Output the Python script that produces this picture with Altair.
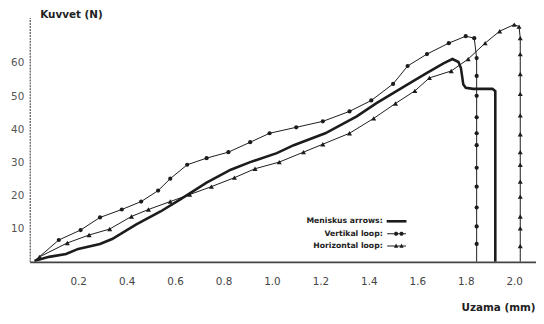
import math
import altair as alt
import pandas as pd

# ---- data ----
series_names = ["Meniskus arrows:", "Vertikal loop:", "Horizontal loop:"]

men_x = [0.02, 0.08, 0.15, 0.20, 0.29, 0.34, 0.44, 0.54, 0.62, 0.73, 0.83, 0.91, 1.02, 1.09,
         1.22, 1.35, 1.43, 1.55, 1.64, 1.71, 1.745, 1.77, 1.78, 1.79, 1.80, 1.83, 1.91, 1.922, 1.922]
men_y = [0.3, 1.5, 2.4, 3.9, 5.4, 6.9, 11.3, 15.2, 18.8, 23.9, 27.8, 30.1, 32.8, 35.2,
         38.8, 43.9, 47.8, 53.1, 57.0, 60.0, 61.2, 60.3, 58.5, 53.5, 52.5, 52.2, 52.2, 51.5, 0.0]

ver_x = [0.02, 0.12, 0.21, 0.29, 0.38, 0.46, 0.53, 0.58, 0.65, 0.73, 0.82, 0.91, 0.99, 1.10,
         1.21, 1.32, 1.41, 1.50, 1.56, 1.64, 1.73, 1.80, 1.835,
         1.845, 1.845, 1.845, 1.845, 1.845, 1.845, 1.845, 1.845, 1.845, 1.845, 1.845, 1.845]
ver_y = [0.3, 6.6, 9.6, 13.4, 15.8, 18.2, 21.5, 25.1, 29.3, 31.3, 33.1, 36.1, 38.8, 40.6,
         42.4, 45.4, 48.7, 53.7, 59.1, 62.7, 66.0, 68.1, 67.5,
         61.5, 56.1, 50.1, 43.6, 38.8, 35.2, 28.4, 22.7, 16.4, 10.7, 5.4, 0.0]

hor_x = [0.02, 0.04, 0.155, 0.245, 0.33, 0.42, 0.49, 0.58, 0.66, 0.75, 0.845, 0.93, 1.03, 1.13,
         1.21, 1.32, 1.42, 1.51, 1.59, 1.65, 1.74, 1.81, 1.88, 1.94, 2.00, 2.02,
         2.025, 2.025, 2.025, 2.025, 2.025, 2.025, 2.025, 2.025, 2.025, 2.025, 2.025, 2.025, 2.025, 2.025]
hor_y = [0.3, 1.5, 5.7, 8.1, 9.9, 13.7, 15.8, 18.2, 20.3, 22.7, 25.4, 28.1, 30.1, 33.1,
         35.5, 38.8, 43.3, 47.8, 51.6, 55.5, 57.6, 61.2, 66.0, 69.6, 71.6, 71.0,
         67.5, 62.7, 56.7, 50.7, 44.2, 38.5, 33.1, 29.3, 24.2, 19.7, 13.7, 10.1, 4.8, 0.0]

x_ticks = [0.2, 0.4, 0.6, 0.8, 1.0, 1.2, 1.4, 1.6, 1.8, 2.0]
y_ticks = [10, 20, 30, 40, 50, 60]

# ---- table ----
rows = []
for name, xs, ys in zip(series_names, [men_x, ver_x, hor_x], [men_y, ver_y, hor_y]):
    for i, (xv, yv) in enumerate(zip(xs, ys)):
        rows.append({"series": name, "x": xv, "y": yv, "idx": i})
df = pd.DataFrame(rows)

INK = "#1c1c1c"
FONT = "DejaVu Sans"

xscale = alt.Scale(domain=[0, 2.09], nice=False, zero=False)
yscale = alt.Scale(domain=[0, 73.7], nice=False, zero=False)

xenc = alt.X("x:Q", scale=xscale, axis=alt.Axis(
    values=x_ticks, format=".1f", ticks=False, grid=False, labelPadding=15,
    labelFontSize=10.5, labelColor="#444", labelFont=FONT,
    domainColor="#444", domainWidth=1.6,
    title="Uzama (mm)", titleFont=FONT, titleFontSize=10.5, titleFontWeight="bold",
    titleColor="#222", titleAnchor="end", titleAlign="right", titleX=511, titleY=46,
    titleBaseline="middle"))
yenc = alt.Y("y:Q", scale=yscale, axis=alt.Axis(
    values=y_ticks, ticks=False, grid=False, labelPadding=6,
    labelFontSize=10.5, labelColor="#555", labelFont=FONT,
    domainColor="#555", domainWidth=1.2, domainDash=[2, 1],
    title="Kuvvet (N)", titleFont=FONT, titleFontSize=10.5, titleFontWeight="bold",
    titleColor="#222", titleAngle=0, titleAlign="left", titleX=10, titleY=-3,
    titleBaseline="middle"))

base = alt.Chart(df)

lines = base.mark_line(color=INK, clip=True).encode(
    x=xenc, y=yenc,
    detail="series:N",
    order=alt.Order("idx:Q"),
    strokeWidth=alt.condition(alt.datum.series == series_names[0], alt.value(2.6), alt.value(1.0)),
)

dots = base.transform_filter(
    (alt.datum.series == series_names[1]) & (alt.datum.y > 0.5) & (alt.datum.idx > 0)
).mark_point(shape="circle", filled=True, size=18, color=INK, opacity=1).encode(x="x:Q", y="y:Q")

tris = base.transform_filter(
    (alt.datum.series == series_names[2]) & (alt.datum.y > 0.5) & (alt.datum.idx > 0)
).mark_point(shape="triangle-up", filled=True, size=26, color=INK, opacity=1).encode(x="x:Q", y="y:Q")

# legend symbols (unit = 5 px), drawn to the right of the right-aligned labels
SH = 3.8  # centre of the symbol drawing, in symbol units


def rect(x0, x1, h):
    return f"M{x0 + SH},{-h}L{x1 + SH},{-h}L{x1 + SH},{h}L{x0 + SH},{h}Z"


def circ(cx, r):
    cx = cx + SH
    pts = [(cx + r * math.cos(2 * math.pi * k / 10), r * math.sin(2 * math.pi * k / 10)) for k in range(10)]
    return "M" + "L".join(f"{px:.3f},{py:.3f}" for px, py in pts) + "Z"


def tri(cx, h):
    cx = cx + SH
    return f"M{cx},{-h}L{cx + h * 0.85},{h * 0.7}L{cx - h * 0.85},{h * 0.7}Z"


legend_paths = [
    rect(-2.0, 2.0, 0.26),
    rect(-1.9, 1.9, 0.1) + circ(-0.1, 0.42) + circ(1.0, 0.42),
    rect(-1.9, 1.9, 0.1) + tri(-0.1, 0.5) + tri(1.0, 0.5),
]

legend_df = pd.DataFrame({"series": series_names})
legend_layer = alt.Chart(legend_df).mark_point(filled=True, size=100, color=INK, opacity=1, clip=True).encode(
    x=alt.value(-300), y=alt.value(-300),
    shape=alt.Shape("series:N", scale=alt.Scale(domain=series_names, range=legend_paths),
                    sort=series_names,
                    legend=alt.Legend(title=None, orient="none", legendX=347, legendY=201,
                                      direction="vertical", labelAlign="right", labelOffset=0,
                                      labelFont=FONT, labelFontSize=7.8, labelColor="#222",
                                      labelFontWeight="bold",
                                      rowPadding=3.5, symbolSize=100,
                                      symbolStrokeWidth=0, symbolFillColor=INK, padding=0)),
)

chart = alt.layer(lines, dots, tris, legend_layer).properties(
    width=512, height=247,
    autosize=alt.AutoSizeParams(type="none"),
    padding={"left": 22, "top": 8, "right": 0, "bottom": 50},
    background="white",
).configure_view(stroke=None)

chart.save("out.html", embed_options={"renderer": "svg", "actions": False})
